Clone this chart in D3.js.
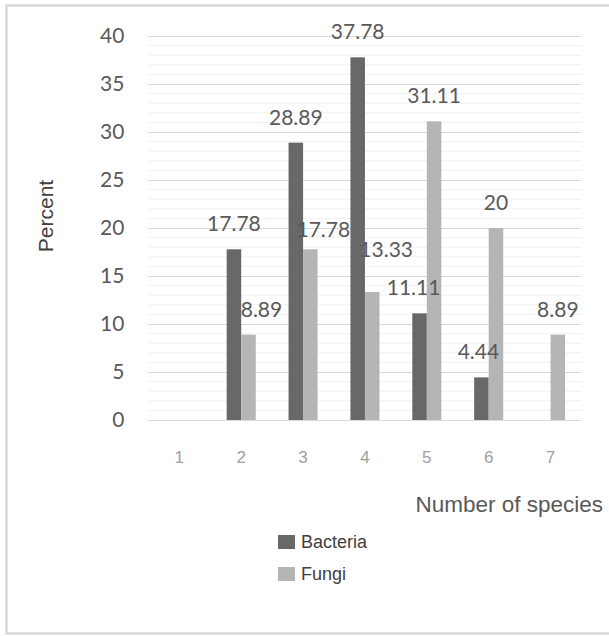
<!DOCTYPE html>
<html>
<head>
<meta charset="utf-8">
<script src="https://cdn.jsdelivr.net/npm/d3@7"></script>
<style>
  body { margin: 0; background: #fff; }
  svg { display: block; }
</style>
</head>
<body>
<svg id="chart"></svg>
<script>
// data
const categories = ["1", "2", "3", "4", "5", "6", "7"];
const seriesNames = ["Bacteria", "Fungi"];
const bacteria = [null, 17.78, 28.89, 37.78, 11.11, 4.44, null];
const fungi = [null, 8.89, 17.78, 13.33, 31.11, 20, 8.89];
const yTicks = [0, 5, 10, 15, 20, 25, 30, 35, 40];

// label nudges (Excel moved a few to avoid overlaps) [dx, dy]
const labelNudge = {
    "Fungi-2": [13, 0],
    "Fungi-3": [13, 6],
    "Fungi-4": [14, -17],
    "Bacteria-5": [-6, 0],
    "Bacteria-6": [-3, 0]
};

const W = 609, H = 636;
const plotLeft = 148.4, plotRight = 581.5;
const plotTop = 36, plotBottom = 420;
const colors = { Bacteria: "#686868", Fungi: "#b5b5b5" };
const numFont = "Lato, 'Open Sans', sans-serif";
const txtFont = "'Liberation Sans', Arial, sans-serif";

const svg = d3.select("#chart").attr("width", W).attr("height", H);

// outer frame
svg.append("rect")
    .attr("x", 6.5).attr("y", 5.5)
    .attr("width", W + 10).attr("height", 628)
    .attr("fill", "none")
    .attr("stroke", "#d9d9d9")
    .attr("stroke-width", 2.5);

const x = d3.scaleBand().domain(categories).range([plotLeft, plotRight]);
const xSub = d3.scaleBand().domain(seriesNames).range([0, x.bandwidth()])
    .paddingInner(0).paddingOuter(1.13);
const y = d3.scaleLinear().domain([0, 40]).range([plotBottom, plotTop]);

// minor gridlines
svg.append("g").selectAll("line")
    .data(y.ticks(40).filter(d => d % 5 !== 0))
    .enter().append("line")
    .attr("x1", plotLeft).attr("x2", plotRight)
    .attr("y1", d => y(d)).attr("y2", d => y(d))
    .attr("stroke", "#f0f0f0").attr("stroke-width", 1);

// major gridlines + y labels
const yAxis = svg.append("g")
    .attr("transform", `translate(${plotLeft},0)`)
    .call(d3.axisLeft(y).tickValues(yTicks).tickSize(-(plotRight - plotLeft)).tickPadding(24));
yAxis.select(".domain").remove();
yAxis.selectAll(".tick line").attr("stroke", "#d9d9d9").attr("stroke-width", 1.2);
yAxis.selectAll(".tick text")
    .attr("fill", "#595959")
    .style("font-family", numFont)
    .style("font-size", "21px");

// x labels
const xAxis = svg.append("g")
    .attr("transform", `translate(0,${plotBottom})`)
    .call(d3.axisBottom(x).tickSize(0));
xAxis.select(".domain").remove();
xAxis.selectAll(".tick text")
    .attr("y", 43).attr("dy", 0)
    .attr("fill", "#a0a0a0")
    .style("font-family", txtFont)
    .style("font-size", "17px");

// bars
const rows = [];
categories.forEach((c, i) => {
    rows.push({ cat: c, series: "Bacteria", value: bacteria[i] });
    rows.push({ cat: c, series: "Fungi", value: fungi[i] });
});
const shown = rows.filter(d => d.value !== null);

svg.append("g").selectAll("rect")
    .data(shown)
    .enter().append("rect")
    .attr("x", d => x(d.cat) + xSub(d.series))
    .attr("y", d => y(d.value))
    .attr("width", xSub.bandwidth())
    .attr("height", d => y(0) - y(d.value))
    .attr("fill", d => colors[d.series]);

// value labels
svg.append("g").selectAll("text")
    .data(shown)
    .enter().append("text")
    .attr("x", d => {
        const n = labelNudge[d.series + "-" + d.cat] || [0, 0];
        return x(d.cat) + xSub(d.series) + xSub.bandwidth() / 2 + n[0];
    })
    .attr("y", d => {
        const n = labelNudge[d.series + "-" + d.cat] || [0, 0];
        return y(d.value) - 18 + n[1];
    })
    .attr("text-anchor", "middle")
    .attr("fill", "#595959")
    .style("font-family", numFont)
    .style("font-size", "21px")
    .text(d => d.value);

// axis titles
svg.append("text")
    .attr("transform", "translate(53,216) rotate(-90)")
    .attr("text-anchor", "middle")
    .attr("fill", "#404040")
    .style("font-family", txtFont)
    .style("font-size", "21px")
    .text("Percent");

svg.append("text")
    .attr("x", 603).attr("y", 512)
    .attr("text-anchor", "end")
    .attr("fill", "#595959")
    .style("font-family", txtFont)
    .style("font-size", "22.5px")
    .text("Number of species");

// legend
const legend = svg.append("g").attr("transform", "translate(278,535)");
const item = legend.selectAll("g")
    .data(seriesNames)
    .enter().append("g")
    .attr("transform", (d, i) => `translate(0,${i * 32})`);
item.append("rect")
    .attr("width", 17).attr("height", 14)
    .attr("fill", d => colors[d]);
item.append("text")
    .attr("x", 23).attr("y", 13)
    .attr("fill", "#404040")
    .style("font-family", txtFont)
    .style("font-size", "18px")
    .text(d => d);
</script>
</body>
</html>
